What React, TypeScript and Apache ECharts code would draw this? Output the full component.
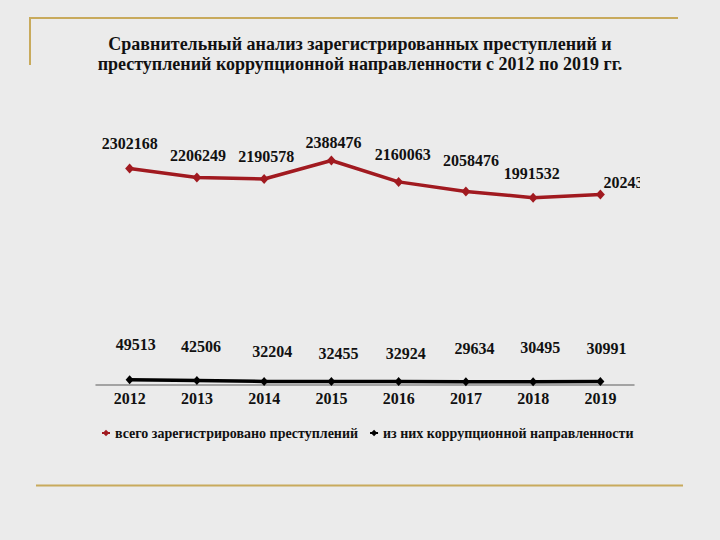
import React, { useEffect, useRef } from "react";
import * as echarts from "echarts";

const years = ["2012", "2013", "2014", "2015", "2016", "2017", "2018", "2019"];
const totalCrimes = [2302168, 2206249, 2190578, 2388476, 2160063, 2058476, 1991532, 2024337];
const corruptionCrimes = [49513, 42506, 32204, 32455, 32924, 29634, 30495, 30991];
const seriesNames = [
  "всего зарегистрировано преступлений",
  "из них коррупционной направленности",
];
const titleLines = [
  "Сравнительный анализ зарегистрированных преступлений и",
  "преступлений коррупционной направленности с 2012 по 2019 гг.",
];

// label placement tweaks (style only)
const redLabelShift = [[0, -25], [1, -22], [2, -23], [2, -18], [4, -27], [5, -31], [-1.5, -24], [31, -12]];
const blackLabelShift = [[6, -35], [4, -34], [8, -30], [7, -28], [7, -28], [8.5, -33], [7, -34], [6, -33]];

const BG = "#ebebeb";
const GOLD = "#c8aa5c";
const RED = "#a11a20";
const SERIF = '"Times New Roman", "Liberation Serif", serif';

export default function App() {
  const ref = useRef<HTMLDivElement>(null);
  useEffect(() => {
    if (!ref.current) return;
    const chart = echarts.init(ref.current, undefined, { renderer: "svg" });
    const labelBase = {
      show: true,
      position: "inside",
      fontFamily: SERIF,
      fontWeight: "bold",
      fontSize: 16,
      color: "#111",
      textBorderWidth: 0,
    };
    const titleStyle = {
      fontFamily: SERIF,
      fontWeight: "bold",
      fontSize: 18,
      color: "#111",
    };
    chart.setOption({
      animation: false,
      backgroundColor: BG,
      title: titleLines.map((t, i) => ({
        text: t,
        left: "center",
        top: 35 + i * 19.5,
        padding: 0,
        textStyle: titleStyle,
      })),
      legend: {
        left: 101,
        top: 426,
        padding: 0,
        itemWidth: 8,
        itemHeight: 8,
        itemGap: 11,
        textStyle: {
          fontFamily: SERIF,
          fontWeight: "bold",
          fontSize: 14,
          color: "#111",
        },
        data: seriesNames,
      },
      grid: { left: 96, right: 86, top: 150, bottom: 155.5 },
      xAxis: {
        type: "category",
        data: years,
        boundaryGap: true,
        axisLine: { lineStyle: { color: "#8c8c8c", width: 1.5 } },
        axisTick: { show: false },
        axisLabel: {
          fontFamily: SERIF,
          fontWeight: "bold",
          fontSize: 16,
          color: "#111",
          margin: 6,
        },
      },
      yAxis: {
        type: "value",
        min: 0,
        max: 2500000,
        show: false,
        splitLine: { show: false },
      },
      series: [
        {
          name: seriesNames[0],
          type: "line",
          data: totalCrimes.map((v, i) => ({
            value: v,
            label: { offset: redLabelShift[i] },
          })),
          symbol: "diamond",
          symbolSize: [9, 10],
          itemStyle: { color: RED },
          lineStyle: { color: RED, width: 3.5 },
          label: labelBase,
          z: 3,
        },
        {
          name: seriesNames[1],
          type: "line",
          data: corruptionCrimes.map((v, i) => ({
            value: v,
            label: { offset: blackLabelShift[i] },
          })),
          symbol: "diamond",
          symbolSize: [8, 9],
          itemStyle: { color: "#000" },
          lineStyle: { color: "#000", width: 3.5 },
          label: labelBase,
          z: 3,
        },
      ],
      graphic: [
        { type: "line", z: 50, shape: { x1: 30, y1: 18, x2: 678, y2: 18 }, style: { stroke: GOLD, lineWidth: 2 } },
        { type: "line", z: 50, shape: { x1: 30, y1: 17, x2: 30, y2: 65 }, style: { stroke: GOLD, lineWidth: 2 } },
        { type: "line", z: 50, shape: { x1: 36, y1: 485.5, x2: 683, y2: 485.5 }, style: { stroke: GOLD, lineWidth: 2 } },
        { type: "rect", z: 100, shape: { x: 640, y: 170, width: 80, height: 26 }, style: { fill: BG } },
      ],
    });
    return () => chart.dispose();
  }, []);
  return (
    <div
      ref={ref}
      style={{ position: "absolute", left: 0, top: 0, width: 720, height: 540 }}
    />
  );
}
